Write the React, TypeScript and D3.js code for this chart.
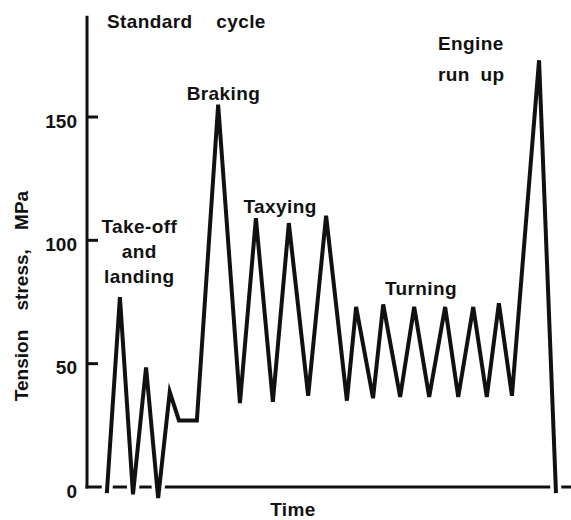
import React from "react";
import * as d3 from "d3";

// Time (arbitrary units, 0–100) and tension stress (MPa) of the standard cycle
const timeValues = [
  4.1, 6.8, 9.5, 12.2, 14.7, 17.1, 19.0, 22.7,
  27.1, 31.6, 34.9, 38.4, 41.7, 45.7, 49.4, 53.7,
  55.6, 59.1, 61.2, 64.7, 67.6, 70.7, 74.0, 76.7, 79.8, 82.6, 85.1, 87.8,
  93.4, 96.9,
];
const stressValues = [
  -2.5, 77, -3, 48.5, -4.5, 38.5, 27, 27,
  155, 34, 109, 34.5, 107, 37, 110, 35,
  73, 36, 74, 36.5, 73, 36.5, 73, 36.5, 73, 36.5, 74.5, 37,
  173, -2.5,
];
const yTicks = [0, 50, 100, 150];
const yTickLabels = ["0", "50", "100", "150"];

// Phase annotations: [label lines, time, stress]
const phaseLabels = ["Take-off|and|landing", "Braking", "Taxying", "Turning", "Engine|run up"];
const phaseTimes = [10.8, 28.2, 39.9, 69.0, 72.5];
const phaseStress = [103, 157, 111, 78, 177];

const title = "Standard cycle";
const xTitle = "Time";
const yTitle = "Tension stress, MPa";

const W = 571;
const H = 520;
const FONT = "'Liberation Sans', Arial, sans-serif";
const INK = "#111";

export default function App() {
  const x = d3.scaleLinear().domain([0, 100]).range([87, 571]);
  const y = d3.scaleLinear().domain([0, 150]).range([487, 117]);

  const pts = timeValues.map((t, i) => [t, stressValues[i]] as [number, number]);
  const line = d3
    .line<[number, number]>()
    .x((d) => x(d[0]))
    .y((d) => y(d[1]));
  const path = line(pts) || "";

  const x0 = x(0);
  const y0 = y(0);
  const yTop = y(191);

  const phaseAnchors = ["middle", "middle", "middle", "middle", "start"];
  const lineGap = 25;

  return (
    <svg
      width={W}
      height={H}
      style={{ position: "absolute", left: 0, top: 0, background: "#fff" }}
      fontFamily={FONT}
      fontWeight="bold"
      fill={INK}
    >
      <rect x={0} y={0} width={W} height={H} fill="#fff" />
      {/* axes */}
      <line x1={x0} x2={x0} y1={yTop} y2={y0 + 1.5} stroke={INK} strokeWidth={3} />
      <line x1={x0 - 1.5} x2={x(100)} y1={y0} y2={y0} stroke={INK} strokeWidth={3} />
      {yTicks.map((v, i) => (
        <g key={v}>
          {v !== 0 && (
            <line x1={x0} x2={x0 + 11} y1={y(v)} y2={y(v)} stroke={INK} strokeWidth={3} />
          )}
          <text x={77} y={y(v) + 10.5} textAnchor="end" fontSize={19}>
            {yTickLabels[i]}
          </text>
        </g>
      ))}
      {/* halo so the baseline breaks where the curve crosses it */}
      <path d={path} fill="none" stroke="#fff" strokeWidth={11} strokeLinejoin="round" />
      <path d={path} fill="none" stroke={INK} strokeWidth={4} strokeLinejoin="miter" strokeMiterlimit={5} />

      {/* titles */}
      <text x={107} y={28} fontSize={19} letterSpacing={0.4} wordSpacing={18}>
        {title}
      </text>
      <text x={293} y={516} fontSize={19} textAnchor="middle" letterSpacing={0.4}>
        {xTitle}
      </text>
      <text
        transform={`translate(28,296) rotate(-90)`}
        fontSize={19}
        textAnchor="middle"
        wordSpacing={14}
      >
        {yTitle}
      </text>

      {/* phase labels */}
      {phaseLabels.map((lab, i) => {
        const lines = lab.split("|");
        return (
          <text
            key={lab}
            x={x(phaseTimes[i])}
            y={y(phaseStress[i])}
            fontSize={19}
            textAnchor={phaseAnchors[i]}
            letterSpacing={0.4}
          >
            {lines.map((l, j) => (
              <tspan key={j} x={x(phaseTimes[i])} dy={j === 0 ? 0 : lineGap + (i === 4 ? 6 : 0)} wordSpacing={i === 4 ? 5 : 0}>
                {l}
              </tspan>
            ))}
          </text>
        );
      })}
    </svg>
  );
}
